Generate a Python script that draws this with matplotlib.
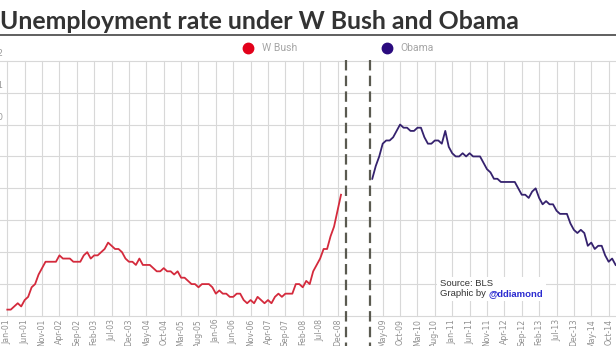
import numpy as np
import matplotlib.pyplot as plt
from matplotlib.lines import Line2D
from matplotlib.patches import Rectangle
import matplotlib.transforms as mtrans

plt.rcParams['lines.scale_dashes'] = False

# monthly unemployment rate (%), Jan 2001 - Jan 2009
bush = [4.2, 4.2, 4.3, 4.4, 4.3, 4.5, 4.6, 4.9, 5.0, 5.3, 5.5, 5.7,
        5.7, 5.7, 5.7, 5.9, 5.8, 5.8, 5.8, 5.7, 5.7, 5.7, 5.9, 6.0,
        5.8, 5.9, 5.9, 6.0, 6.1, 6.3, 6.2, 6.1, 6.1, 6.0, 5.8, 5.7,
        5.7, 5.6, 5.8, 5.6, 5.6, 5.6, 5.5, 5.4, 5.4, 5.5, 5.4, 5.4,
        5.3, 5.4, 5.2, 5.2, 5.1, 5.0, 5.0, 4.9, 5.0, 5.0, 5.0, 4.9,
        4.7, 4.8, 4.7, 4.7, 4.6, 4.6, 4.7, 4.7, 4.5, 4.4, 4.5, 4.4,
        4.6, 4.5, 4.4, 4.5, 4.4, 4.6, 4.7, 4.6, 4.7, 4.7, 4.7, 5.0,
        5.0, 4.9, 5.1, 5.0, 5.4, 5.6, 5.8, 6.1, 6.1, 6.5, 6.8, 7.3,
        7.8]
# Feb 2009 - Dec 2014
obama = [8.3, 8.7, 9.0, 9.4, 9.5, 9.5, 9.6, 9.8, 10.0, 9.9, 9.9,
         9.8, 9.8, 9.9, 9.9, 9.6, 9.4, 9.4, 9.5, 9.5, 9.4, 9.8, 9.3,
         9.1, 9.0, 9.0, 9.1, 9.0, 9.1, 9.0, 9.0, 9.0, 8.8, 8.6, 8.5,
         8.3, 8.3, 8.2, 8.2, 8.2, 8.2, 8.2, 8.0, 7.8, 7.8, 7.7, 7.9,
         8.0, 7.7, 7.5, 7.6, 7.5, 7.5, 7.3, 7.2, 7.2, 7.2, 6.9, 6.7,
         6.6, 6.7, 6.6, 6.2, 6.3, 6.1, 6.2, 6.2, 5.9, 5.7, 5.8, 5.6]

bush_ticks = ['Jan-01', 'Jun-01', 'Nov-01', 'Apr-02', 'Sep-02', 'Feb-03', 'Jul-03',
              'Dec-03', 'May-04', 'Oct-04', 'Mar-05', 'Aug-05', 'Jan-06', 'Jun-06',
              'Nov-06', 'Apr-07', 'Sep-07', 'Feb-08', 'Jul-08', 'Dec-08']
obama_ticks = ['May-09', 'Oct-09', 'Mar-10', 'Aug-10', 'Jan-11', 'Jun-11', 'Nov-11',
               'Apr-12', 'Sep-12', 'Feb-13', 'Jul-13', 'Dec-13', 'May-14', 'Oct-14']
y_vals = [4, 5, 6, 7, 8, 9, 10, 11, 12]

W, H = 616, 346
def px(x): return x / W
def py(y): return 1 - y / H

fig = plt.figure(figsize=(W / 100, H / 100), dpi=100)
fig.patch.set_facecolor('white')

ax = fig.add_axes([0, py(316), 1, (316 - 60.7) / H])

gap = 8
bx = np.arange(len(bush))
ox = len(bush) + gap + np.arange(len(obama))

ppm = 3.476  # pixels per month
ax.set_xlim(-7.3 / ppm, (W - 7.3) / ppm)
ax.set_ylim(4, 12)

ax.plot(bx, bush, color='#d42a3c', lw=1.3, zorder=3, solid_joinstyle='round')
ax.plot(ox, obama, color='#35226e', lw=1.3, zorder=3, solid_joinstyle='round')

ax.set_xticks(list(bx[::5]) + list(ox[3::5]))
ax.set_xticklabels(bush_ticks + obama_ticks, rotation=90, fontsize=5.6,
                   color='#909090', va='top')
ax.set_yticks(y_vals)
ax.set_yticklabels([])
ax.tick_params(length=0, pad=2)
ax.grid(True, color='#d8d8d8', lw=0.8, clip_on=False)
ax.set_axisbelow(True)
for s in ax.spines.values():
    s.set_visible(False)

# y labels, left-aligned and clipped by the figure edge
for v in y_vals:
    ax.annotate(str(v), xy=(0, v), xycoords=('axes fraction', 'data'),
                xytext=(-7.8, 7), textcoords='offset pixels',
                ha='left', va='center', fontsize=6.2, color='#9a9a9a',
                annotation_clip=False)

# dashed dividers
tr = mtrans.blended_transform_factory(ax.transData, fig.transFigure)
for xd in [len(bush) + 0.35, ox[0] - 0.65]:
    ln = Line2D([xd, xd], [py(60), 0], transform=tr, color='#5a5a50', lw=1.6)
    ln.set_dashes((7.5, 3.8))
    fig.add_artist(ln)

# title
fig.text(px(0), py(29), 'Unemployment rate under W Bush and Obama', fontsize=17.9,
         fontweight='bold', family=['Lato', 'DejaVu Sans'], color='#333333',
         va='baseline', ha='left')
fig.add_artist(Line2D([0, 1], [py(34.5)] * 2, lw=1.2, color='#444444'))

# legend
narrow = ['Liberation Sans Narrow', 'Roboto', 'DejaVu Sans']
fig.add_artist(Line2D([px(248)], [py(47.7)], marker='o', ms=7.5, color='#e2001a', lw=0))
fig.text(px(262), py(47.7), 'W Bush', fontsize=7.5, color='#a5a5a5', family=narrow,
         va='center', ha='left')
fig.add_artist(Line2D([px(387.3)], [py(47.7)], marker='o', ms=7.5, color='#2a0a7e', lw=0))
fig.text(px(400), py(47.7), 'Obama', fontsize=7.5, color='#a5a5a5', family=narrow,
         va='center', ha='left')

# source box
fig.add_artist(Rectangle((px(437), py(301)), (546 - 437) / W, 24 / H,
                         transform=fig.transFigure, facecolor='white',
                         edgecolor='none', zorder=4))
src = ['Liberation Sans', 'DejaVu Sans']
fig.text(px(440), py(286.5), 'Source: BLS', fontsize=6.8, color='#333333',
         family=src, va='baseline', zorder=5)
t1 = fig.text(px(440), py(296.5), 'Graphic by ', fontsize=6.8, color='#333333',
              family=src, va='baseline', zorder=5)
r = fig.canvas.get_renderer()
x_end = t1.get_window_extent(r).x1
fig.text(x_end / W, py(296.5), '@ddiamond', fontsize=6.8, color='#2b2bd0',
         family=src, fontweight='bold', va='baseline', zorder=5)

fig.savefig('out.png', dpi=100)
